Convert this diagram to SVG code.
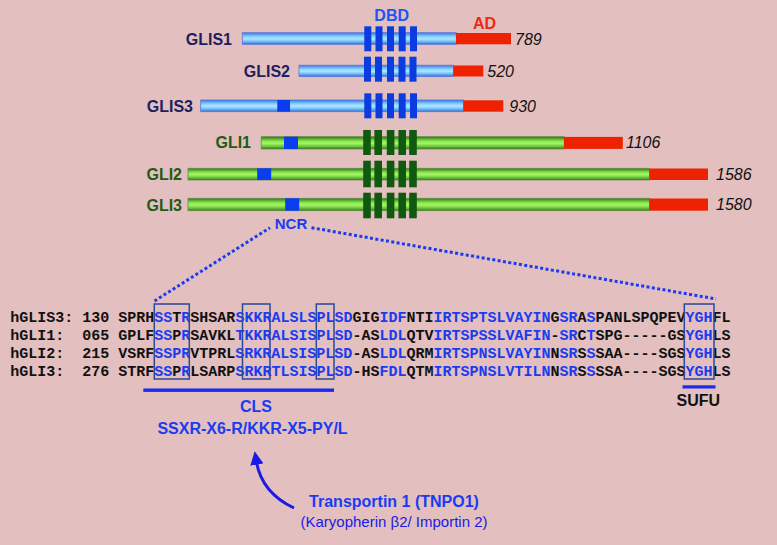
<svg xmlns="http://www.w3.org/2000/svg" width="777" height="545" viewBox="0 0 777 545">
<defs>
<linearGradient id="gb" x1="0" y1="0" x2="0" y2="1">
<stop offset="0" stop-color="#3a78e6"/><stop offset="0.35" stop-color="#8fd3ff"/><stop offset="0.55" stop-color="#a9e6ff"/><stop offset="0.8" stop-color="#66b2f2"/><stop offset="1" stop-color="#3068d6"/>
</linearGradient>
<linearGradient id="gg" x1="0" y1="0" x2="0" y2="1">
<stop offset="0" stop-color="#2a7612"/><stop offset="0.35" stop-color="#8ae64a"/><stop offset="0.55" stop-color="#a4f46a"/><stop offset="0.8" stop-color="#68c436"/><stop offset="1" stop-color="#2a7612"/>
</linearGradient>
<marker id="ah" viewBox="0 0 10 10" refX="2" refY="5" markerWidth="4.5" markerHeight="4.5" orient="auto" markerUnits="strokeWidth">
<path d="M0,0 L10,5 L0,10 z" fill="#1a1ae6"/>
</marker>
<style>
.bb{fill:url(#gb);stroke:#5a78d8;stroke-width:0.8}
.gb{fill:url(#gg);stroke:#6a8a50;stroke-width:0.8}
.ad{fill:#ee2200}
.ncr{fill:#0a3cf0}
.db{fill:#0a3ce0}
.dg{fill:#0f5a10}
.lb{font-family:"Liberation Sans",Arial,sans-serif;font-weight:bold;font-size:16px}
.lbn{fill:#1b1f60}
.lbg{fill:#1e5c14}
.num{font-family:"Liberation Sans",Arial,sans-serif;font-style:italic;font-size:16px;fill:#111}
.seq{font-family:"Liberation Mono","Courier New",monospace;font-weight:bold;font-size:15px;fill:#111}
.b{fill:#1a3cf0}
.box{fill:none;stroke:#2a4a9a;stroke-width:1.5}
.dot{fill:none;stroke:#1a3cf0;stroke-width:3;stroke-dasharray:3 2.4}
.bl{font-family:"Liberation Sans",Arial,sans-serif;font-weight:bold;fill:#1a3cf0}
</style>
</defs>
<rect width="777" height="545" fill="#e3bfbf"/>

<g id="GLIS1">
<text class="lb lbn" x="232" y="45" text-anchor="end">GLIS1</text>
<rect class="bb" x="242.3" y="32.7" width="214" height="11.6"/>
<rect class="ad" x="456" y="33" width="55" height="11.3"/>
<rect class="db" x="364.3" y="26.3" width="7" height="25"/><rect class="db" x="375.5" y="26.3" width="7" height="25"/><rect class="db" x="387" y="26.3" width="7" height="25"/><rect class="db" x="398.7" y="26.3" width="7" height="25"/><rect class="db" x="410" y="26.3" width="7" height="25"/>
<text class="num" x="515" y="45">789</text>
</g>
<g id="DBD"><text class="lb" x="391.7" y="20.7" text-anchor="middle" fill="#2255ee">DBD</text></g>
<g id="AD"><text class="lb" x="484.5" y="29.3" text-anchor="middle" fill="#ee2a10">AD</text></g>

<g id="GLIS2">
<text class="lb lbn" x="290" y="76.5" text-anchor="end">GLIS2</text>
<rect class="bb" x="299" y="65.2" width="154.5" height="11.3"/>
<rect class="ad" x="453.3" y="65.5" width="30" height="11"/>
<rect class="db" x="364" y="56.7" width="7" height="25"/><rect class="db" x="375" y="56.7" width="7" height="25"/><rect class="db" x="387" y="56.7" width="7" height="25"/><rect class="db" x="398.5" y="56.7" width="7" height="25"/><rect class="db" x="409.5" y="56.7" width="7" height="25"/>
<text class="num" x="487.3" y="76.5">520</text>
</g>

<g id="GLIS3">
<text class="lb lbn" x="193" y="111.7" text-anchor="end">GLIS3</text>
<rect class="bb" x="200.7" y="100" width="263" height="11.7"/>
<rect class="ad" x="463.3" y="100.3" width="40" height="11.4"/>
<rect class="ncr" x="277.3" y="100" width="12.7" height="11.7"/>
<rect class="db" x="364.3" y="93.3" width="7" height="25"/><rect class="db" x="375.5" y="93.3" width="7" height="25"/><rect class="db" x="387" y="93.3" width="7" height="25"/><rect class="db" x="398.7" y="93.3" width="7" height="25"/><rect class="db" x="410" y="93.3" width="7" height="25"/>
<text class="num" x="509.3" y="111.7">930</text>
</g>

<g id="GLI1">
<text class="lb lbg" x="251" y="148.3" text-anchor="end">GLI1</text>
<rect class="gb" x="261.2" y="136.7" width="303" height="12.3"/>
<rect class="ad" x="564" y="136.9" width="58.8" height="12"/>
<rect class="ncr" x="284" y="136.7" width="14" height="12.3"/>
<rect class="dg" x="363.2" y="130" width="7.6" height="25"/><rect class="dg" x="374.4" y="130" width="7.6" height="25"/><rect class="dg" x="386.8" y="130" width="7.6" height="25"/><rect class="dg" x="398.4" y="130" width="7.6" height="25"/><rect class="dg" x="409.2" y="130" width="7.6" height="25"/>
<text class="num" x="626" y="148">1106</text>
</g>

<g id="GLI2">
<text class="lb lbg" x="182" y="180" text-anchor="end">GLI2</text>
<rect class="gb" x="188" y="168.3" width="461.5" height="11.7"/>
<rect class="ad" x="649.2" y="168.5" width="58.8" height="11.5"/>
<rect class="ncr" x="257.2" y="168.3" width="14" height="11.7"/>
<rect class="dg" x="363.2" y="160.7" width="7.6" height="26.6"/><rect class="dg" x="374.4" y="160.7" width="7.6" height="26.6"/><rect class="dg" x="386.8" y="160.7" width="7.6" height="26.6"/><rect class="dg" x="398.4" y="160.7" width="7.6" height="26.6"/><rect class="dg" x="409.2" y="160.7" width="7.6" height="26.6"/>
<text class="num" x="716" y="179.5">1586</text>
</g>

<g id="GLI3">
<text class="lb lbg" x="182" y="210.5" text-anchor="end">GLI3</text>
<rect class="gb" x="188" y="198.3" width="461.5" height="12.4"/>
<rect class="ad" x="649.2" y="198.5" width="58.8" height="12.2"/>
<rect class="ncr" x="285.2" y="198.3" width="14" height="12.4"/>
<rect class="dg" x="363.2" y="192.7" width="7.6" height="25.6"/><rect class="dg" x="374.4" y="192.7" width="7.6" height="25.6"/><rect class="dg" x="386.8" y="192.7" width="7.6" height="25.6"/><rect class="dg" x="398.4" y="192.7" width="7.6" height="25.6"/><rect class="dg" x="409.2" y="192.7" width="7.6" height="25.6"/>
<text class="num" x="716" y="210">1580</text>
</g>

<g id="NCR"><text class="bl" x="291" y="228.5" font-size="15" text-anchor="middle">NCR</text></g>

<g id="connectors">
<path class="dot" d="M154.5,301 L270,227.7"/>
<path class="dot" d="M311.5,227.7 L716,299"/>
<path d="M294,508 Q262,493 256.5,462" fill="none" stroke="#1a1ae6" stroke-width="3" marker-end="url(#ah)"/>
</g>

<g id="alignment">
<text class="seq" x="10.3" y="321.5">hGLIS3:</text><text class="seq" x="82.3" y="321.5">130</text>
<text class="seq" x="118.3" y="321.5">SPRH<tspan class="b">SS</tspan>T<tspan class="b">R</tspan>SHSAR<tspan class="b">SKKRALSLSPLSD</tspan>GIG<tspan class="b">IDF</tspan>NTI<tspan class="b">IRTSPTSLVAYIN</tspan>G<tspan class="b">SR</tspan>A<tspan class="b">S</tspan>PANLSPQPEV<tspan class="b">YGH</tspan>FL</text>
<text class="seq" x="10.3" y="339.8">hGLI1:</text><text class="seq" x="82.3" y="339.8">065</text>
<text class="seq" x="118.3" y="339.8">GPLF<tspan class="b">SS</tspan>P<tspan class="b">R</tspan>SAVKL<tspan class="b">TKKRALSISPLSD</tspan>-AS<tspan class="b">LDL</tspan>QTV<tspan class="b">IRTSPSSLVAFIN</tspan>-<tspan class="b">SR</tspan>C<tspan class="b">T</tspan>SPG-----GS<tspan class="b">YGH</tspan>LS</text>
<text class="seq" x="10.3" y="358.1">hGLI2:</text><text class="seq" x="82.3" y="358.1">215</text>
<text class="seq" x="118.3" y="358.1">VSRF<tspan class="b">SSPR</tspan>VTPRL<tspan class="b">SRKRALSISPLSD</tspan>-AS<tspan class="b">LDL</tspan>QRM<tspan class="b">IRTSPNSLVAYIN</tspan>N<tspan class="b">SR</tspan>S<tspan class="b">S</tspan>SAA----SGS<tspan class="b">YGH</tspan>LS</text>
<text class="seq" x="10.3" y="376.4">hGLI3:</text><text class="seq" x="82.3" y="376.4">276</text>
<text class="seq" x="118.3" y="376.4">STRF<tspan class="b">SS</tspan>P<tspan class="b">R</tspan>LSARP<tspan class="b">SRKRTLSISPLSD</tspan>-HS<tspan class="b">FDL</tspan>QTM<tspan class="b">IRTSPNSLVTILN</tspan>N<tspan class="b">SR</tspan>S<tspan class="b">S</tspan>SSA----SGS<tspan class="b">YGH</tspan>LS</text>
<rect class="box" x="154.3" y="304" width="35" height="75"/>
<rect class="box" x="242.5" y="304" width="27.5" height="75"/>
<rect class="box" x="316.3" y="304" width="17.7" height="75"/>
<rect class="box" x="684.3" y="304" width="29.7" height="75"/>
</g>

<g id="CLS">
<rect x="143.3" y="388.5" width="190.7" height="3.4" fill="#1a2bef"/>
<text class="bl" x="256" y="411.5" font-size="16" text-anchor="middle">CLS</text>
<text class="bl" x="252.5" y="434" font-size="16" text-anchor="middle">SSXR-X6-R/KKR-X5-PY/L</text>
</g>

<g id="SUFU">
<rect x="682.5" y="385.3" width="33" height="3.2" fill="#1a2bef"/>
<text class="lb" x="698.3" y="406" font-size="15" text-anchor="middle" fill="#111">SUFU</text>
</g>

<g id="TNPO1">
<text class="bl" x="394" y="507" font-size="16" text-anchor="middle" fill="#1a1ae6">Transportin 1 (TNPO1)</text>
<text x="394" y="527" font-family="Liberation Sans,Arial,sans-serif" font-size="15" text-anchor="middle" fill="#1a1ae6">(Karyopherin β2/ Importin 2)</text>
</g>
</svg>
